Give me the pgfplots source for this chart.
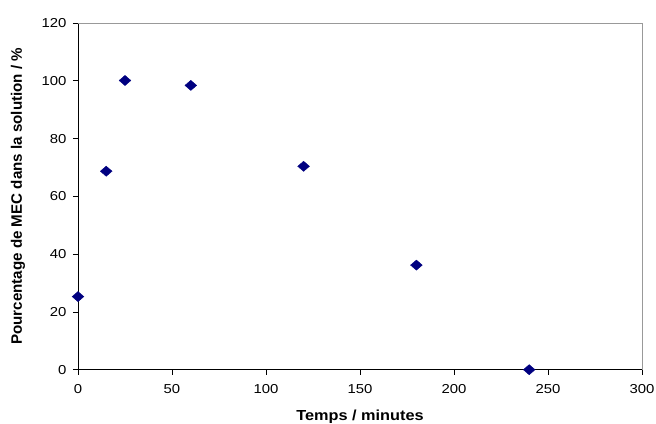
\documentclass[border=0pt]{standalone}
\usepackage{pgfplots}
\pgfplotsset{compat=1.18}
\usepackage{fontspec}
\setmainfont{Liberation Sans}
\newfontfamily\tickfont{Liberation Sans}[FakeStretch=1.15]
\newfontfamily\xlabfont{Liberation Sans}[FakeStretch=1.12]
\definecolor{navy}{RGB}{0,0,128}
\begin{document}
\begin{tikzpicture}
\begin{axis}[
  at={(0,0)}, anchor=south west,
  scale only axis,
  width=564bp, height=346.7bp,
  xmin=0, xmax=300, ymin=0, ymax=120,
  xtick={0,50,...,300}, ytick={0,20,...,120},
  axis x line*=bottom, axis y line*=left,
  axis line style={black, line width=0.8pt, -},
  tick align=outside,
  major tick length=5bp,
  tick style={black, line width=0.8pt},
  /pgf/number format/assume math mode=true,
  ticklabel style={font=\tickfont\fontsize{13}{15}\selectfont},
  xticklabel style={yshift=-6bp},
  yticklabel style={xshift=-3bp},
  xlabel={Temps / minutes},
  ylabel={Pourcentage de MEC dans la solution / \%},
  xlabel style={font=\xlabfont\bfseries\fontsize{14.6}{16}\selectfont, at={(axis description cs:0.5,0)}, anchor=base, yshift=-50.3bp},
  ylabel style={font=\bfseries\fontsize{15.2}{17}\selectfont, at={(axis description cs:-0.1064,0.5)}, anchor=center, yshift=0bp},
  clip=false,
]
\addplot[only marks, mark=diamond*, mark size=4.6bp, color=navy,
  mark options={xscale=1.7, yscale=1.1, fill=navy, draw=navy}]
  coordinates {
  (0,25.3) (15,68.7) (25,100.1) (60,98.4) (120,70.4) (180,36.2) (240,0)
  };
\draw[gray!80, line width=0.8pt] (rel axis cs:0,1) -- (rel axis cs:1,1) -- (rel axis cs:1,0);
\end{axis}
\pgfresetboundingbox
\path[use as bounding box] (-78bp,-54.3bp) rectangle (578bp,369.7bp);
\end{tikzpicture}
\end{document}
